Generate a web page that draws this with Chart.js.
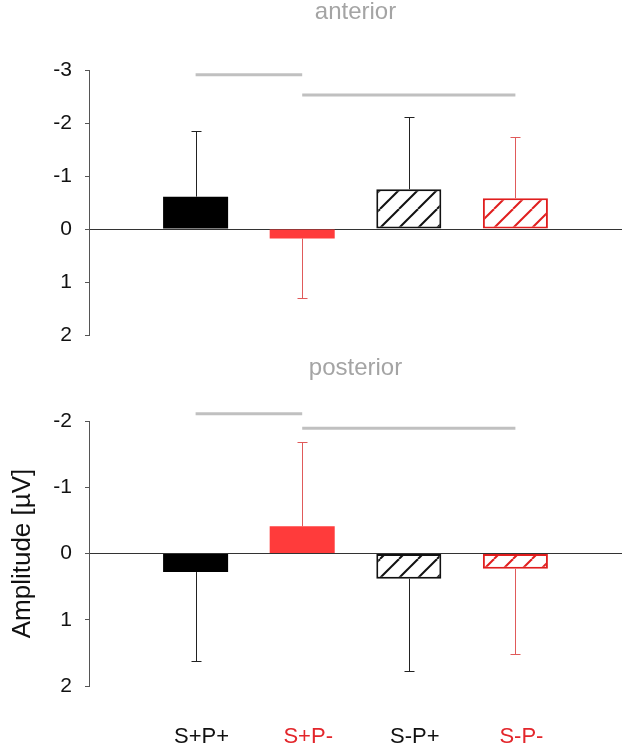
<!DOCTYPE html>
<html>
<head>
<meta charset="utf-8">
<script src="https://cdn.jsdelivr.net/npm/chart.js@4.4.1/dist/chart.umd.min.js"></script>
<style>
  body { margin: 0; background: #fff; }
  canvas { display: block; }
</style>
</head>
<body>
<canvas id="anterior" width="630" height="350"></canvas>
<canvas id="posterior" width="630" height="404"></canvas>
<script>
// Conditions and their label colours
const conditions = ['S+P+', 'S+P-', 'S-P+', 'S-P-'];
const conditionColors = ['#111111', '#e3262b', '#111111', '#e3262b'];

// Mean amplitudes (µV)
const anteriorMeans = [-0.61, 0.18, -0.75, -0.58];
const posteriorMeans = [0.28, -0.41, 0.38, 0.23];

// One-sided error bars (SD), drawn away from zero
const anteriorSD = [1.24, 1.13, 1.37, 1.15];
const posteriorSD = [1.34, 1.28, 1.40, 1.29];

// Significance bars: [from condition, to condition, level]
const anteriorSig = [[0, 1, -2.91], [1, 3, -2.53]];
const posteriorSig = [[0, 1, -2.11], [1, 3, -1.89]];

// Y axis ranges (reversed: negative up)
const anteriorRange = [-3, 2];
const posteriorRange = [-2, 2];

const FONT = "'Liberation Sans', Arial, sans-serif";
const RED = '#ff3b3b';
const RED_LINE = '#e01e1e';

// Diagonal hatch fill for the S- bars
function hatch(color) {
  const s = 19;
  const c = document.createElement('canvas');
  c.width = s; c.height = s;
  const ctx = c.getContext('2d');
  ctx.fillStyle = '#fff';
  ctx.fillRect(0, 0, s, s);
  ctx.strokeStyle = color;
  ctx.lineWidth = 2;
  [-s, 0, s].forEach(k => {
    ctx.beginPath();
    ctx.moveTo(k, s);
    ctx.lineTo(k + s, 0);
    ctx.stroke();
  });
  return c.getContext('2d').createPattern(c, 'repeat');
}

// pad with an empty slot on each side so bars sit at 1..4 of 0..5
const slots = ['', ...conditions, ''];
const pad = arr => [null, ...arr, null];

// Error bars, placed through the chart's scales
const errorBars = {
  id: 'errorBars',
  afterDatasetsDraw(chart, args, opts) {
    const ctx = chart.ctx;
    const y = chart.scales.y;
    const meta = chart.getDatasetMeta(0);
    opts.means.forEach((m, i) => {
      const el = meta.data[i + 1];
      const tip = m + Math.sign(m) * opts.sd[i];
      const x = Math.round(el.x) + 0.5;
      const y0 = y.getPixelForValue(m);
      const y1 = Math.round(y.getPixelForValue(tip)) + 0.5;
      ctx.save();
      ctx.strokeStyle = opts.colors[i];
      ctx.lineWidth = 1;
      ctx.beginPath();
      ctx.moveTo(x, y0);
      ctx.lineTo(x, y1);
      ctx.moveTo(x - 5, y1);
      ctx.lineTo(x + 5, y1);
      ctx.stroke();
      ctx.restore();
    });
  }
};

function sigDatasets(sig) {
  return sig.map(([a, b, level]) => {
    const data = Array(slots.length).fill(null);
    for (let i = a; i <= b; i++) data[i + 1] = level;
    return {
      type: 'line',
      data,
      borderColor: '#c0c0c0',
      borderWidth: 3,
      borderCapStyle: 'butt',
      pointRadius: 0,
      spanGaps: false,
      clip: false
    };
  });
}

function makeChart(id, opt) {
  const hatchBlack = hatch('#111');
  const hatchRed = hatch(RED_LINE);
  return new Chart(document.getElementById(id), {
    type: 'bar',
    data: {
      labels: slots,
      datasets: [{
        data: pad(opt.means),
        backgroundColor: pad(['#000', RED, hatchBlack, hatchRed]),
        borderColor: pad(['#000', RED, '#111', RED_LINE]),
        borderWidth: pad([0, 0, 2, 2]),
        borderSkipped: false,
        categoryPercentage: 0.61,
        barPercentage: 1
      }, ...sigDatasets(opt.sig)]
    },
    options: {
      responsive: false,
      animation: false,
      events: [],
      layout: { padding: { left: 0, right: 8, top: 0, bottom: opt.bottomPad } },
      plugins: {
        legend: { display: false },
        tooltip: { enabled: false },
        title: {
          display: true,
          text: opt.title,
          color: '#a4a4a4',
          fullSize: false,
          font: { family: FONT, size: 24, weight: 'normal', lineHeight: 1 },
          padding: { top: opt.titleTop, bottom: opt.titleBottom }
        },
        errorBars: {
          means: opt.means,
          sd: opt.sd,
          colors: ['#222', '#e05a5a', '#222', '#e05a5a']
        }
      },
      scales: {
        x: {
          display: opt.showX,
          offset: false,
          grid: { display: false, drawTicks: true, tickLength: 38 },
          border: { display: false },
          ticks: {
            autoSkip: false,
            maxRotation: 0,
            padding: 0,
            labelOffset: 6,
            color: c => ['#000', ...conditionColors, '#000'][c.index],
            font: { family: FONT, size: 22 }
          }
        },
        y: {
          min: opt.range[0],
          max: opt.range[1],
          reverse: true,
          afterFit: s => {
            s.width = 89;
            // let the layout padding alone decide the plot's vertical extent
            s.paddingTop = 0;
            s.paddingBottom = 0;
          },
          border: { color: '#555', width: 1 },
          grid: {
            color: c => (c.tick && c.tick.value === 0 ? '#333' : 'rgba(0,0,0,0)'),
            tickColor: '#555',
            tickLength: 4
          },
          ticks: {
            stepSize: 1,
            padding: 13,
            color: '#111',
            font: { family: FONT, size: 21 }
          },
          title: {
            display: opt.yTitle,
            text: 'Amplitude [\u00b5V]',
            color: '#111',
            font: { family: FONT, size: 26 },
            padding: { top: 7, bottom: 0 }
          }
        }
      }
    },
    plugins: [errorBars]
  });
}

makeChart('anterior', {
  title: 'anterior',
  means: anteriorMeans,
  sd: anteriorSD,
  sig: anteriorSig,
  range: anteriorRange,
  showX: false,
  yTitle: false,
  titleTop: 0,
  titleBottom: 46,
  bottomPad: 15
});

makeChart('posterior', {
  title: 'posterior',
  means: posteriorMeans,
  sd: posteriorSD,
  sig: posteriorSig,
  range: posteriorRange,
  showX: true,
  yTitle: true,
  titleTop: 6,
  titleBottom: 41,
  bottomPad: 3.6
});
</script>
</body>
</html>
